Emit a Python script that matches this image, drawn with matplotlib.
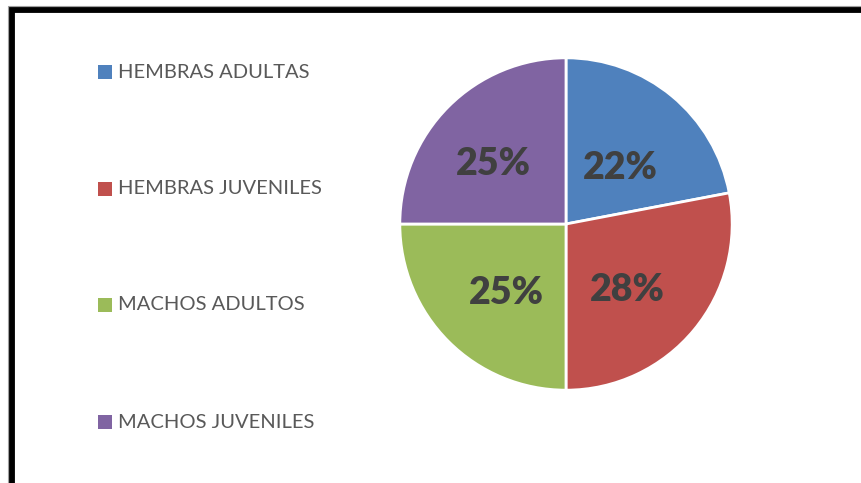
import matplotlib
matplotlib.use("Agg")
import matplotlib.pyplot as plt
from matplotlib.patches import Rectangle
from matplotlib.lines import Line2D

categories = ["HEMBRAS ADULTAS", "HEMBRAS JUVENILES", "MACHOS ADULTOS", "MACHOS JUVENILES"]
values = [22, 28, 25, 25]
colors = ["#4F81BD", "#C0504D", "#9BBB59", "#8064A2"]

W, H = 861, 483
fig = plt.figure(figsize=(W / 100, H / 100), dpi=100)
fig.patch.set_facecolor("white")

# pie axes: center (566,224) px, radius 167 px
cx, cy, r = 566, 224, 167
ax = fig.add_axes([(cx - r) / W, (H - cy - r) / H, 2 * r / W, 2 * r / H])
wedges, texts, autotexts = ax.pie(
    values, colors=colors, startangle=90, counterclock=False,
    autopct="%1.0f%%", pctdistance=0.55,
    wedgeprops=dict(edgecolor="white", linewidth=2.0),
    textprops=dict(fontsize=27, fontweight="heavy", color="#404040", family=["Lato", "DejaVu Sans"]),
)
# small label nudges (Excel best-fit placement)
nudges = [(-0.021, -0.089), (-0.052, -0.045), (0.029, -0.025), (-0.049, -0.029)]
for t, (dx, dy) in zip(autotexts, nudges):
    x0, y0 = t.get_position()
    t.set_position((x0 + dx, y0 + dy))
ax.set_xlim(-1.005, 1.005)
ax.set_ylim(-1.005, 1.005)
ax.set_aspect("equal")
ax.axis("off")

# legend drawn manually
rows_y = [72, 189, 305, 422]
for name, col, yy in zip(categories, colors, rows_y):
    fig.patches.append(Rectangle((98 / W, 1 - (yy + 7) / H), 14 / W, 14 / H,
                                 transform=fig.transFigure, facecolor=col, edgecolor="none"))
    fig.text(118 / W, 1 - yy / H, name, fontsize=14.5, color="#595959",
             family=["Lato", "DejaVu Sans"], va="center", ha="left")

# frame border (left and top visible)
fig.add_artist(Line2D([8 / W, 8 / W, 1], [0, 1 - 6 / H, 1 - 6 / H],
                      transform=fig.transFigure, color="#A0A0A0", linewidth=0.8))
fig.add_artist(Line2D([11.8 / W, 11.8 / W, 1], [0, 1 - 9.8 / H, 1 - 9.8 / H],
                      transform=fig.transFigure, color="black", linewidth=4.2,
                      solid_joinstyle="miter"))

fig.savefig("out.png", dpi=100)
